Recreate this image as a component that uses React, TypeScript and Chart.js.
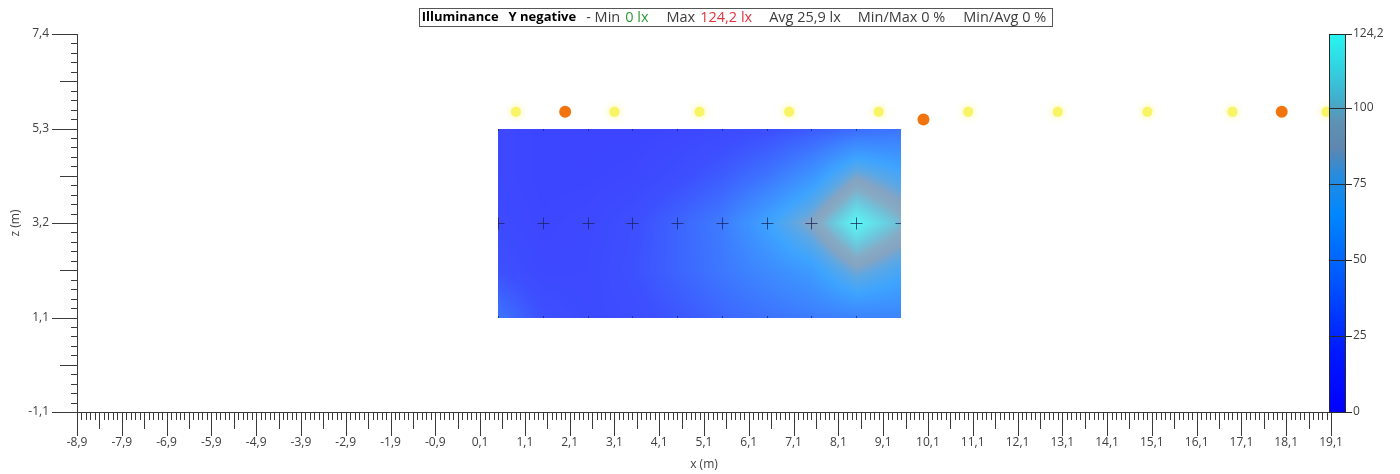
import React, { useEffect, useRef } from "react";
import { Chart, registerables } from "chart.js";

Chart.register(...registerables);

const FONT = "'Open Sans', 'DejaVu Sans', sans-serif";

// ---------- axis ticks ----------
const xTickValues = [-8.9, -7.9, -6.9, -5.9, -4.9, -3.9, -2.9, -1.9, -0.9, 0.1, 1.1, 2.1, 3.1, 4.1, 5.1, 6.1, 7.1, 8.1, 9.1, 10.1, 11.1, 12.1, 13.1, 14.1, 15.1, 16.1, 17.1, 18.1, 19.1];
const yTickValues = [-1.05, 1.05, 3.15, 5.25, 7.35];
const yTickLabels = ["-1,1", "1,1", "3,2", "5,3", "7,4"];
const colorbarTickValues = [0, 25, 50, 75, 100, 124.2];
const colorbarTickLabels = ["0", "25", "50", "75", "100", "124,2"];

// ---------- illuminance grid (lx) ----------
const gridX = [0.5, 1.5, 2.5, 3.5, 4.5, 5.5, 6.5, 7.5, 8.5, 9.5];
const gridZ = [5.25, 4.2, 3.15, 2.1, 1.05];
const illumZ525 = [12, 9, 8, 8, 10, 13, 18, 25, 33, 38];
const illumZ420 = [12, 9, 9, 11, 17, 26, 38, 55, 84, 70];
const illumZ315 = [14, 10, 12, 18, 30, 42, 64, 88, 124.2, 100];
const illumZ210 = [20, 12, 13, 20, 30, 40, 50, 60, 84, 70];
const illumZ105 = [38, 20, 14, 16, 23, 31, 37, 42, 46, 47];
const illumRows = [illumZ525, illumZ420, illumZ315, illumZ210, illumZ105];

// calculation points (crosses)
const calcPointX = [0.5, 1.5, 2.5, 3.5, 4.5, 5.5, 6.5, 7.5, 8.5, 9.5];
const calcPointZ = 3.15;

// ---------- luminaires ----------
const luminaireYellowX = [0.9, 3.1, 5.0, 7.0, 9.0, 11.0, 13.0, 15.0, 16.9, 19.0];
const luminaireYellowZ = [5.62, 5.62, 5.62, 5.62, 5.62, 5.62, 5.62, 5.62, 5.62, 5.62];
const luminaireOrangeX = [2.0, 10.0, 18.0];
const luminaireOrangeZ = [5.62, 5.45, 5.62];

// ---------- colour scale ----------
const colorStopValues = [0, 20, 45, 65, 78, 87, 95, 103, 113, 124.2];
const colorStopRGB = [
  [0, 0, 255], [0, 25, 255], [0, 90, 255], [0, 135, 255], [40, 140, 220],
  [95, 135, 175], [95, 145, 180], [65, 175, 205], [50, 210, 225], [40, 245, 240],
];
const HEAT_ALPHA = 0.76;

function colorFor(v: number): number[] {
  const n = colorStopValues.length;
  if (v <= colorStopValues[0]) return colorStopRGB[0];
  if (v >= colorStopValues[n - 1]) return colorStopRGB[n - 1];
  for (let k = 0; k < n - 1; k++) {
    const a = colorStopValues[k], b = colorStopValues[k + 1];
    if (v >= a && v <= b) {
      const t = (v - a) / (b - a);
      const c0 = colorStopRGB[k], c1 = colorStopRGB[k + 1];
      return [c0[0] + (c1[0] - c0[0]) * t, c0[1] + (c1[1] - c0[1]) * t, c0[2] + (c1[2] - c0[2]) * t];
    }
  }
  return colorStopRGB[n - 1];
}

function sample(xv: number, zv: number): number {
  const nx = gridX.length, nz = gridZ.length;
  let i = 0;
  while (i < nx - 2 && xv > gridX[i + 1]) i++;
  let j = 0;
  while (j < nz - 2 && zv < gridZ[j + 1]) j++;
  let tx = (xv - gridX[i]) / (gridX[i + 1] - gridX[i]);
  let tz = (gridZ[j] - zv) / (gridZ[j] - gridZ[j + 1]);
  tx = Math.max(0, Math.min(1, tx));
  tz = Math.max(0, Math.min(1, tz));
  const a = illumRows[j][i], b = illumRows[j][i + 1];
  const c = illumRows[j + 1][i], d = illumRows[j + 1][i + 1];
  return (a * (1 - tx) + b * tx) * (1 - tz) + (c * (1 - tx) + d * tx) * tz;
}

const fmt = (v: number) => v.toFixed(1).replace(".", ",");

const heatPlugin = {
  id: "heatmap",
  beforeDatasetsDraw(chart: any) {
    const { ctx } = chart;
    const xs = chart.scales.x, ys = chart.scales.y;
    const px0 = Math.round(xs.getPixelForValue(gridX[0]));
    const px1 = Math.round(xs.getPixelForValue(gridX[gridX.length - 1]));
    const py0 = Math.round(ys.getPixelForValue(gridZ[0]));
    const py1 = Math.round(ys.getPixelForValue(gridZ[gridZ.length - 1]));
    const w = px1 - px0, h = py1 - py0;
    const off = document.createElement("canvas");
    off.width = w; off.height = h;
    const octx = off.getContext("2d")!;
    const img = octx.createImageData(w, h);
    for (let j = 0; j < h; j++) {
      const zv = ys.getValueForPixel(py0 + j + 0.5);
      for (let i = 0; i < w; i++) {
        const xv = xs.getValueForPixel(px0 + i + 0.5);
        const c = colorFor(sample(xv, zv));
        const k = (j * w + i) * 4;
        img.data[k] = Math.round(c[0] * HEAT_ALPHA + 255 * (1 - HEAT_ALPHA));
        img.data[k + 1] = Math.round(c[1] * HEAT_ALPHA + 255 * (1 - HEAT_ALPHA));
        img.data[k + 2] = Math.round(c[2] * HEAT_ALPHA + 255 * (1 - HEAT_ALPHA));
        img.data[k + 3] = 255;
      }
    }
    octx.putImageData(img, 0, 0);
    ctx.drawImage(off, px0, py0);

    // calculation point markers
    ctx.save();
    ctx.beginPath();
    ctx.rect(px0, py0, w, h);
    ctx.clip();
    ctx.strokeStyle = "rgba(25,35,90,0.75)";
    ctx.lineWidth = 1;
    const cy = Math.round(ys.getPixelForValue(calcPointZ)) + 0.5;
    for (const xv of calcPointX) {
      const cx = Math.round(xs.getPixelForValue(xv)) + 0.5;
      ctx.beginPath();
      ctx.moveTo(cx - 6, cy); ctx.lineTo(cx + 6, cy);
      ctx.moveTo(cx, cy - 6); ctx.lineTo(cx, cy + 6);
      ctx.moveTo(cx, py0); ctx.lineTo(cx, py0 + 2);
      ctx.moveTo(cx, py1 - 2); ctx.lineTo(cx, py1);
      ctx.stroke();
    }
    ctx.restore();
  },
  beforeDatasetDraw(chart: any, args: any) {
    if (args.index === 0) {
      chart.ctx.save();
      chart.ctx.shadowColor = "rgba(250,245,120,0.9)";
      chart.ctx.shadowBlur = 7;
    }
  },
  afterDatasetDraw(chart: any, args: any) {
    if (args.index === 0) chart.ctx.restore();
  },
  afterDraw(chart: any) {
    const { ctx, chartArea } = chart;
    const xs = chart.scales.x, ys = chart.scales.y, cb = chart.scales.cbar;
    const L = chartArea.left, B = chartArea.bottom, T = chartArea.top, R = chartArea.right;
    ctx.save();
    ctx.strokeStyle = "#3a3a3a";
    ctx.lineWidth = 1;
    ctx.beginPath();
    // axis lines
    ctx.moveTo(L + 0.5, T); ctx.lineTo(L + 0.5, B + 1);
    ctx.moveTo(L, B + 0.5); ctx.lineTo(R, B + 0.5);
    // x ticks
    for (let i = 0; i <= 280; i++) {
      const v = xTickValues[0] + i * 0.1;
      const px = Math.round(xs.getPixelForValue(v)) + 0.5;
      const len = i % 10 === 0 ? 24 : i % 5 === 0 ? 17 : 8;
      ctx.moveTo(px, B); ctx.lineTo(px, B + len);
    }
    // y ticks
    for (let i = 0; i <= 40; i++) {
      const v = yTickValues[0] + i * 0.21;
      const py = Math.round(ys.getPixelForValue(v)) + 0.5;
      const len = i % 10 === 0 ? 25 : i % 5 === 0 ? 17 : 6;
      ctx.moveTo(L - len, py); ctx.lineTo(L + 1, py);
    }
    ctx.stroke();

    // colour bar
    const cTop = cb.getPixelForValue(colorbarTickValues[colorbarTickValues.length - 1]);
    const cBot = cb.getPixelForValue(colorbarTickValues[0]);
    const cL = R - 2, cW = 16;
    const grad = ctx.createLinearGradient(0, cBot, 0, cTop);
    const maxV = colorStopValues[colorStopValues.length - 1];
    colorStopValues.forEach((v, k) => {
      const c = colorStopRGB[k];
      grad.addColorStop(v / maxV, `rgb(${c[0]},${c[1]},${c[2]})`);
    });
    ctx.fillStyle = grad;
    ctx.fillRect(cL, cTop, cW, cBot - cTop);
    ctx.strokeStyle = "#2a2a2a";
    ctx.strokeRect(cL + 0.5, cTop + 0.5, cW, cBot - cTop);
    ctx.beginPath();
    for (const v of colorbarTickValues) {
      const py = Math.round(cb.getPixelForValue(v)) + 0.5;
      ctx.moveTo(cL, py); ctx.lineTo(R + 21, py);
    }
    ctx.stroke();

    // title box
    const pieces = [
      { t: "Illuminance", bold: true, c: "#000", gap: 0 },
      { t: "Y negative", bold: true, c: "#000", gap: 10 },
      { t: "- Min", bold: false, c: "#3c3c3c", gap: 10 },
      { t: "0 lx", bold: false, c: "#2f9a3a", gap: 5 },
      { t: "Max", bold: false, c: "#3c3c3c", gap: 18 },
      { t: "124,2 lx", bold: false, c: "#e0343f", gap: 5 },
      { t: "Avg 25,9 lx", bold: false, c: "#3c3c3c", gap: 17 },
      { t: "Min/Max 0 %", bold: false, c: "#3c3c3c", gap: 17 },
      { t: "Min/Avg 0 %", bold: false, c: "#3c3c3c", gap: 18 },
    ];
    const fontFor = (b: boolean) => `${b ? "bold 13px" : "14.5px"} ${FONT}`;
    let total = 0;
    const widths = pieces.map((p) => {
      ctx.font = fontFor(p.bold);
      const wd = ctx.measureText(p.t).width;
      total += p.gap + wd;
      return wd;
    });
    const cx = 734;
    let xPos = cx - total / 2;
    ctx.fillStyle = "#fff";
    ctx.fillRect(xPos - 3, 8, total + 9, 18);
    ctx.strokeStyle = "#555";
    ctx.strokeRect(Math.round(xPos - 3) + 0.5, 8.5, Math.round(total + 9), 18);
    ctx.textBaseline = "middle";
    ctx.textAlign = "left";
    pieces.forEach((p, k) => {
      xPos += p.gap;
      ctx.font = fontFor(p.bold);
      ctx.fillStyle = p.c;
      ctx.fillText(p.t, xPos, 17.5);
      xPos += widths[k];
    });
    ctx.restore();
  },
};

export default function App() {
  const ref = useRef<HTMLCanvasElement | null>(null);
  useEffect(() => {
    if (!ref.current) return;
    Chart.defaults.font.family = FONT;
    const chart = new Chart(ref.current, {
      type: "scatter",
      data: {
        datasets: [
          {
            label: "Luminaires",
            data: luminaireYellowX.map((x, i) => ({ x, y: luminaireYellowZ[i] })),
            backgroundColor: "#f8f465",
            borderWidth: 0,
            pointRadius: 5,
            clip: false as any,
          },
          {
            label: "Luminaires (selected)",
            data: luminaireOrangeX.map((x, i) => ({ x, y: luminaireOrangeZ[i] })),
            backgroundColor: "#f2740f",
            borderWidth: 0,
            pointRadius: 6,
            clip: false as any,
          },
        ],
      },
      options: {
        animation: false,
        responsive: true,
        maintainAspectRatio: false,
        events: [],
        layout: { padding: { top: 34, left: 0, right: 0, bottom: 0 } },
        plugins: { legend: { display: false }, tooltip: { enabled: false }, title: { display: false } },
        scales: {
          x: {
            type: "linear",
            position: "bottom",
            min: xTickValues[0],
            max: xTickValues[xTickValues.length - 1],
            grid: { display: false },
            border: { display: false },
            afterBuildTicks: (s: any) => { s.ticks = xTickValues.map((v) => ({ value: v })); },
            afterFit: (s: any) => { s.height = 62; },
            ticks: {
              autoSkip: false, maxRotation: 0, minRotation: 0, padding: 15,
              color: "#404040", font: { size: 12 },
              callback: (v: any) => fmt(Number(v)),
            },
            title: { display: true, text: "x (m)", color: "#404040", font: { size: 12 }, padding: { top: 0, bottom: 2 } },
          },
          y: {
            type: "linear",
            position: "left",
            min: yTickValues[0],
            max: yTickValues[yTickValues.length - 1],
            grid: { display: false },
            border: { display: false },
            afterBuildTicks: (s: any) => { s.ticks = yTickValues.map((v) => ({ value: v })); },
            afterFit: (s: any) => { s.width = 77; },
            ticks: {
              autoSkip: false, padding: 20, color: "#404040", font: { size: 12 },
              callback: (_v: any, i: number) => yTickLabels[i],
            },
            title: { display: true, text: "z (m)", color: "#404040", font: { size: 12 }, padding: { top: 8, bottom: 0 } },
          },
          cbar: {
            type: "linear",
            position: "right",
            min: colorbarTickValues[0],
            max: colorbarTickValues[colorbarTickValues.length - 1],
            grid: { display: false },
            border: { display: false },
            afterBuildTicks: (s: any) => { s.ticks = colorbarTickValues.map((v) => ({ value: v })); },
            afterFit: (s: any) => { s.width = 69; },
            ticks: {
              autoSkip: false, padding: 14, color: "#404040", font: { size: 12 },
              callback: (_v: any, i: number) => colorbarTickLabels[i],
            },
          },
        },
      },
      plugins: [heatPlugin],
    });
    return () => chart.destroy();
  }, []);
  return (
    <div style={{ position: "absolute", left: 0, top: 0, width: 1400, height: 474, background: "#fff" }}>
      <canvas ref={ref} />
    </div>
  );
}
